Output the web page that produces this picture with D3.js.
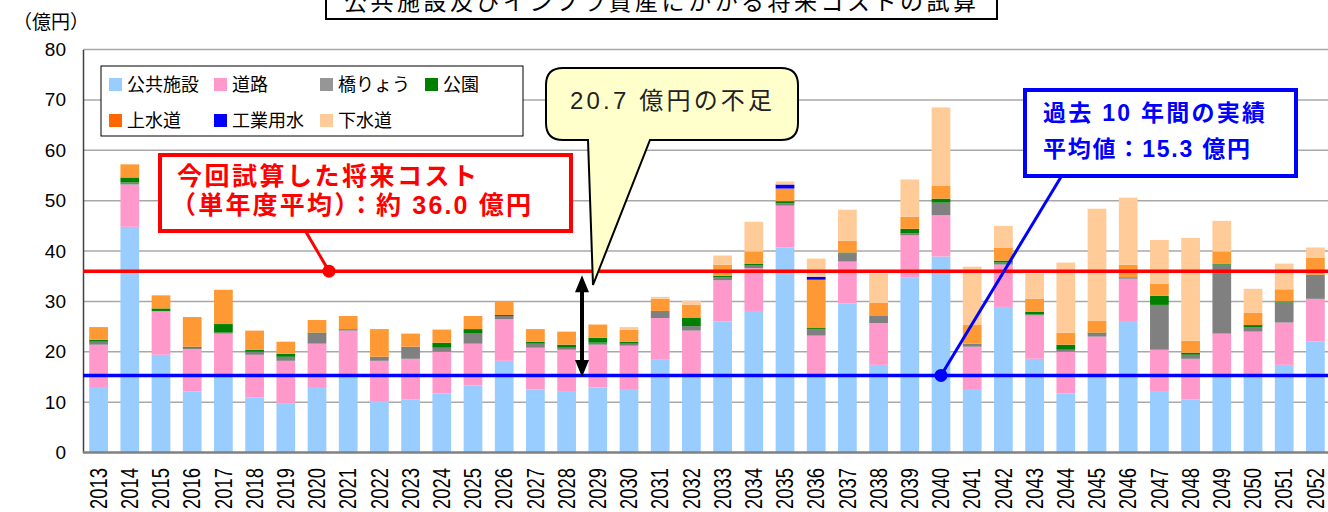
<!DOCTYPE html>
<meta charset="utf-8">
<style>
  body { margin: 0; background: #fff; }
  svg { display: block; font-family: "Liberation Sans", "Noto Sans CJK JP", sans-serif; }
  .grid line { stroke: #a8a8a8; stroke-width: 1.5; }
</style>
<body>
</body>
<script src="https://cdn.jsdelivr.net/npm/d3@7/dist/d3.min.js"></script>
<script>
  const years = ['2013','2014','2015','2016','2017','2018','2019','2020','2021','2022',
    '2023','2024','2025','2026','2027','2028','2029','2030','2031','2032',
    '2033','2034','2035','2036','2037','2038','2039','2040','2041','2042',
    '2043','2044','2045','2046','2047','2048','2049','2050','2051','2052'];

  const publicFac = [13.0, 44.8, 19.4, 12.1, 15.0, 10.9, 9.8, 13.0, 15.1, 10.1,
    10.5, 11.7, 13.3, 18.2, 12.5, 12.2, 12.9, 12.6, 18.4, 15.2,
    26.0, 28.1, 40.7, 15.0, 29.6, 17.4, 34.8, 38.9, 12.6, 28.9,
    18.6, 11.7, 14.8, 26.1, 12.2, 10.5, 15.2, 15.5, 17.4, 22.0];
  const roads = [8.4, 8.4, 8.6, 8.4, 8.6, 8.5, 8.4, 8.6, 9.1, 8.1,
    8.1, 8.3, 8.3, 8.3, 8.3, 8.2, 8.5, 8.6, 8.3, 9.0,
    8.2, 8.5, 8.3, 8.2, 8.3, 8.3, 8.3, 8.2, 8.4, 8.4,
    8.6, 8.3, 8.2, 8.4, 8.2, 8.1, 8.4, 8.5, 8.4, 8.5];
  const bridges = [0.6, 0.4, 0.1, 0.3, 0.2, 0.6, 0.8, 2.0, 0.3, 0.8,
    2.4, 0.8, 2.0, 0.6, 0.8, 0.4, 0.4, 0.4, 1.4, 0.9,
    0.6, 0.5, 0.5, 1.3, 1.6, 1.4, 0.4, 2.5, 0.6, 0.4,
    0.2, 0.4, 0.6, 0.3, 8.9, 0.8, 13.7, 0.8, 4.0, 4.8];
  const parks = [0.4, 1.0, 0.5, 0.2, 1.7, 0.4, 0.6, 0.2, 0, 0,
    0, 1.0, 0.9, 0.2, 0.4, 0.6, 1.0, 0.4, 0, 1.6,
    0.3, 0.4, 0.4, 0.2, 0.2, 0, 0.9, 0.8, 0, 0.4,
    0.5, 1.0, 0.2, 0, 1.8, 0.4, 0.2, 0.5, 0.2, 0];
  const waterSupply = [2.5, 2.6, 2.6, 5.9, 6.8, 3.8, 2.4, 2.5, 2.6, 5.5,
    2.6, 2.6, 2.6, 2.7, 2.5, 2.6, 2.6, 2.4, 2.4, 2.6,
    2.2, 2.4, 2.5, 9.6, 2.3, 2.6, 2.4, 2.6, 3.7, 2.6,
    2.6, 2.4, 2.3, 2.5, 2.4, 2.4, 2.4, 2.4, 2.4, 3.4];
  const industrialWater = [0, 0, 0, 0, 0, 0, 0, 0, 0, 0,
    0, 0, 0, 0, 0, 0, 0, 0, 0, 0,
    0, 0, 0.8, 0.6, 0, 0, 0, 0, 0, 0,
    0, 0, 0, 0, 0, 0, 0, 0, 0, 0];
  const sewerage = [0, 0, 0, 0, 0, 0, 0, 0, 0, 0,
    0, 0, 0, 0, 0, 0, 0, 0.5, 0.4, 0.8,
    1.8, 5.9, 0.6, 3.6, 6.2, 5.8, 7.4, 15.5, 11.6, 4.3,
    5.0, 13.9, 22.3, 13.3, 8.7, 20.4, 6.1, 4.8, 5.1, 2.0];

  const seriesNames = ['公共施設', '道路', '橋りょう', '公園', '上水道', '工業用水', '下水道'];
  const seriesValues = [publicFac, roads, bridges, parks, waterSupply, industrialWater, sewerage];
  const barColors = ['#99ccff', '#ff99cc', '#808080', '#008000', '#ff9933', '#0000ff', '#ffcc99'];
  const legendColors = ['#99ccff', '#ff99cc', '#969696', '#008000', '#ff6600', '#0000ff', '#ffcc99'];
  const yTicks = [0, 10, 20, 30, 40, 50, 60, 70, 80];

  const futureAvg = 36.0;
  const pastAvg = 15.3;
  const titleText = '公共施設及びインフラ資産にかかる将来コストの試算';
  const unitText = '（億円）';
  const futureText = ['今回試算した将来コスト', '（単年度平均）：約 36.0 億円'];
  const pastText = ['過去 10 年間の実績', '平均値：15.3 億円'];
  const gapText = '20.7 億円の不足';

  const W = 1328, H = 512;
  const l = 83, r = 1331, t = 49.5, b = 452.5;

  const rows = years.map((yr, i) => {
    const o = {year: yr};
    seriesNames.forEach((s, k) => { o[s] = seriesValues[k][i]; });
    return o;
  });
  const stacked = d3.stack().keys(seriesNames)(rows);

  const x = d3.scaleBand().domain(years).range([l, r]).paddingInner(0.4).paddingOuter(0.2);
  const y = d3.scaleLinear().domain([0, 80]).range([b, t]);

  const svg = d3.select('body').append('svg').attr('width', W).attr('height', H);

  // gridlines
  svg.append('g').attr('class', 'grid')
    .selectAll('line')
    .data(yTicks.filter(d => d > 0))
    .join('line')
    .attr('x1', l).attr('x2', r)
    .attr('y1', d => y(d)).attr('y2', d => y(d));

  // bars
  svg.append('g')
    .selectAll('g')
    .data(stacked)
    .join('g')
    .attr('fill', (d, i) => barColors[i])
    .selectAll('rect')
    .data(d => d.filter(p => p[1] - p[0] > 0))
    .join('rect')
    .attr('x', d => x(d.data.year))
    .attr('width', x.bandwidth())
    .attr('y', d => y(d[1]))
    .attr('height', d => y(d[0]) - y(d[1]));

  // axes
  const yAxis = svg.append('g')
    .attr('transform', `translate(${l},0)`)
    .call(d3.axisLeft(y).tickValues(yTicks).tickSize(0).tickPadding(17));
  yAxis.select('.domain').attr('stroke', '#404040').attr('stroke-width', 1.5);
  yAxis.selectAll('text')
    .attr('font-size', 19).attr('fill', '#000')
    .attr('font-family', '"Liberation Sans", Arial, sans-serif');

  svg.append('line')
    .attr('x1', l).attr('x2', r)
    .attr('y1', b).attr('y2', b)
    .attr('stroke', '#808080').attr('stroke-width', 2.5);

  // year labels: tall, narrow digits reading bottom to top
  svg.append('g')
    .selectAll('text')
    .data(years)
    .join('text')
    .attr('transform', d => `translate(${x(d) + x.bandwidth() / 2},468) rotate(-90) scale(0.8,1)`)
    .attr('text-anchor', 'end')
    .attr('dy', '0.36em')
    .attr('font-size', 23)
    .text(d => d);

  svg.append('text')
    .attr('x', 13).attr('y', 29)
    .attr('font-size', 19)
    .attr('font-family', '"Noto Sans CJK JP", sans-serif')
    .text(unitText);

  // title box
  svg.append('rect')
    .attr('x', 326).attr('y', -12).attr('width', 671).attr('height', 31)
    .attr('fill', '#fff').attr('stroke', '#000').attr('stroke-width', 2);
  svg.append('text')
    .attr('x', 344).attr('y', 10)
    .attr('font-size', 23)
    .attr('font-family', '"Noto Sans CJK JP", sans-serif')
    .attr('textLength', 632).attr('lengthAdjust', 'spacing')
    .text(titleText);

  // legend
  const lg = svg.append('g');
  lg.append('rect')
    .attr('x', 101).attr('y', 66).attr('width', 422).attr('height', 70)
    .attr('fill', '#fff').attr('stroke', '#000').attr('stroke-width', 1);
  const legendPos = [[109, 78], [214, 78], [320, 78], [425, 78], [109, 114], [214, 114], [320, 114]];
  const li = lg.selectAll('g')
    .data(seriesNames)
    .join('g')
    .attr('transform', (d, i) => `translate(${legendPos[i][0]},${legendPos[i][1]})`);
  li.append('rect')
    .attr('width', 13).attr('height', 13)
    .attr('fill', (d, i) => legendColors[i]);
  li.append('text')
    .attr('x', 18).attr('y', 13)
    .attr('font-size', 18)
    .attr('font-family', '"Noto Sans CJK JP", sans-serif')
    .text(d => d);

  // average lines
  svg.append('line')
    .attr('x1', l).attr('x2', r)
    .attr('y1', y(futureAvg)).attr('y2', y(futureAvg))
    .attr('stroke', '#ff0000').attr('stroke-width', 3.5);
  svg.append('line')
    .attr('x1', l).attr('x2', r)
    .attr('y1', y(pastAvg)).attr('y2', y(pastAvg))
    .attr('stroke', '#0000ff').attr('stroke-width', 3.5);

  // red callout
  const redDotX = 329;
  svg.append('line')
    .attr('x1', 306).attr('y1', 232).attr('x2', redDotX).attr('y2', y(futureAvg))
    .attr('stroke', '#ff0000').attr('stroke-width', 3);
  svg.append('circle')
    .attr('cx', redDotX).attr('cy', y(futureAvg)).attr('r', 6.5).attr('fill', '#ff0000');
  svg.append('rect')
    .attr('x', 160).attr('y', 155).attr('width', 411).attr('height', 76)
    .attr('fill', '#fff').attr('stroke', '#ff0000').attr('stroke-width', 4);
  svg.append('text')
    .attr('x', 177).attr('y', 185)
    .attr('font-size', 25).attr('font-weight', 'bold').attr('fill', '#ff0000')
    .attr('font-family', '"Noto Sans CJK JP", sans-serif')
    .attr('textLength', 300).attr('lengthAdjust', 'spacing')
    .text(futureText[0]);
  svg.append('text')
    .attr('x', 171).attr('y', 214)
    .attr('font-size', 25).attr('font-weight', 'bold').attr('fill', '#ff0000')
    .attr('textLength', 360).attr('lengthAdjust', 'spacing')
    .text(futureText[1]);

  // blue callout
  const blueDotX = x('2040') + x.bandwidth() / 2;
  svg.append('line')
    .attr('x1', 1061).attr('y1', 177).attr('x2', blueDotX).attr('y2', y(pastAvg))
    .attr('stroke', '#0000ff').attr('stroke-width', 3);
  svg.append('circle')
    .attr('cx', blueDotX).attr('cy', y(pastAvg)).attr('r', 6.5).attr('fill', '#0000ff');
  svg.append('rect')
    .attr('x', 1025).attr('y', 90).attr('width', 271).attr('height', 86)
    .attr('fill', '#fff').attr('stroke', '#0000ff').attr('stroke-width', 4);
  svg.append('text')
    .attr('x', 1043).attr('y', 121)
    .attr('font-size', 23).attr('font-weight', 'bold').attr('fill', '#0000ff')
    .attr('textLength', 222).attr('lengthAdjust', 'spacing')
    .text(pastText[0]);
  svg.append('text')
    .attr('x', 1043).attr('y', 157)
    .attr('font-size', 23).attr('font-weight', 'bold').attr('fill', '#0000ff')
    .attr('textLength', 207).attr('lengthAdjust', 'spacing')
    .text(pastText[1]);

  // double arrow for the gap
  const ax = 582, aTop = y(futureAvg) + 4, aBot = y(pastAvg) + 1.5;
  svg.append('line')
    .attr('x1', ax).attr('x2', ax).attr('y1', aTop + 12).attr('y2', aBot - 12)
    .attr('stroke', '#000').attr('stroke-width', 4);
  svg.append('path')
    .attr('d', `M${ax},${aTop} L${ax + 7},${aTop + 17} L${ax - 7},${aTop + 17} Z`
      + `M${ax},${aBot} L${ax + 7},${aBot - 17} L${ax - 7},${aBot - 17} Z`)
    .attr('fill', '#000');

  // speech bubble
  const bx0 = 546, bx1 = 798, by0 = 68, by1 = 140, br = 17;
  svg.append('path')
    .attr('d', `M${bx0 + br},${by0} H${bx1 - br} Q${bx1},${by0} ${bx1},${by0 + br}`
      + ` V${by1 - br} Q${bx1},${by1} ${bx1 - br},${by1} H650 L593,285 L588,${by1}`
      + ` H${bx0 + br} Q${bx0},${by1} ${bx0},${by1 - br} V${by0 + br} Q${bx0},${by0} ${bx0 + br},${by0} Z`)
    .attr('fill', '#ffffcc').attr('stroke', '#000').attr('stroke-width', 2);
  svg.append('text')
    .attr('x', 570).attr('y', 109)
    .attr('font-size', 24).attr('fill', '#222')
    .attr('textLength', 202).attr('lengthAdjust', 'spacing')
    .text(gapText);
</script>
